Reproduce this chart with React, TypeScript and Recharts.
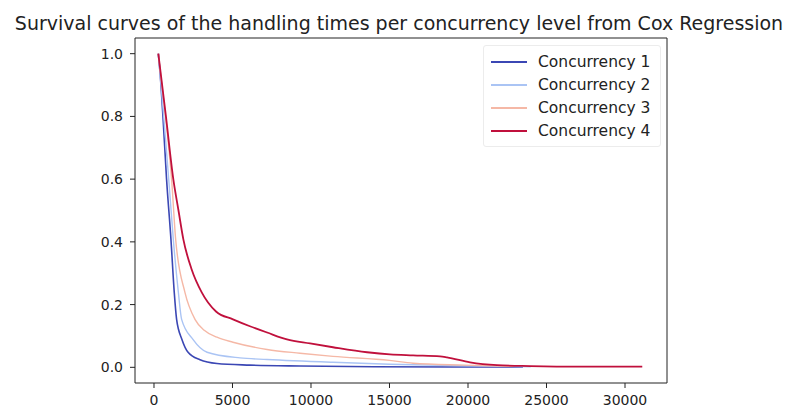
import React from "react";
import { LineChart, Line, XAxis, YAxis, ReferenceArea } from "recharts";

// Handling time (seconds) and survival probability per concurrency level
const times1 = [275, 400, 570, 800, 1080, 1290, 1440, 1780, 2170, 2930, 4010, 6110, 9300, 14000, 19000, 23500];
const surv1 = [1.0, 0.93, 0.8, 0.6, 0.408, 0.239, 0.153, 0.089, 0.048, 0.024, 0.012, 0.007, 0.004, 0.002, 0.001, 0.001];

const times2 = [275, 450, 700, 1000, 1230, 1550, 1760, 2480, 3380, 5480, 7200, 11400, 15000, 20000, 24000];
const surv2 = [1.0, 0.9, 0.75, 0.56, 0.408, 0.24, 0.153, 0.089, 0.048, 0.03, 0.025, 0.016, 0.01, 0.005, 0.002];

const times3 = [275, 500, 800, 1120, 1380, 1970, 2610, 3200, 4010, 5030, 7200, 9300, 11400, 15000, 16500, 19700, 22900];
const surv3 = [1.0, 0.9, 0.77, 0.6, 0.408, 0.239, 0.153, 0.118, 0.096, 0.08, 0.057, 0.045, 0.035, 0.022, 0.013, 0.007, 0.003];

const times4 = [275, 760, 1230, 1560, 1870, 2400, 3040, 3950, 5030, 6110, 7200, 8470, 9940, 11400, 13570, 15030, 16500, 18220, 18660, 20130, 21850, 23950, 27130, 31100];
const surv4 = [1.0, 0.8, 0.6, 0.5, 0.408, 0.312, 0.239, 0.178, 0.153, 0.131, 0.111, 0.089, 0.076, 0.064, 0.048, 0.041, 0.038, 0.035, 0.032, 0.016, 0.007, 0.004, 0.002, 0.002];

const xTicks = [0, 5000, 10000, 15000, 20000, 25000, 30000];
const yTicks = [0, 0.2, 0.4, 0.6, 0.8, 1.0];

const X_DOMAIN: [number, number] = [-1210, 32675];
const Y_DOMAIN: [number, number] = [-0.05, 1.05];

const toPoints = (t: number[], s: number[]) => t.map((time, i) => ({ time, surv: s[i] }));

const series = [
  { name: "Concurrency 1", color: "#3b47b4", width: 1.6, data: toPoints(times1, surv1) },
  { name: "Concurrency 2", color: "#aac4f4", width: 1.4, data: toPoints(times2, surv2) },
  { name: "Concurrency 3", color: "#f5b8a6", width: 1.4, data: toPoints(times3, surv3) },
  { name: "Concurrency 4", color: "#c0103c", width: 1.8, data: toPoints(times4, surv4) },
];

const FONT = "'DejaVu Sans', sans-serif";

// legend sits inside the axes, top-right corner
function LegendBox() {
  return (
    <div
      style={{
        position: "absolute",
        left: 483,
        top: 45,
        border: "1px solid #ececec",
        borderRadius: 3,
        background: "rgba(255,255,255,0.8)",
        padding: "4px 10px 4px 7px",
        fontFamily: FONT,
        fontSize: 15.5,
        color: "#222",
      }}
    >
      {series.map((s) => (
        <div key={s.name} style={{ display: "flex", alignItems: "center", height: 23 }}>
          <span style={{ display: "inline-block", width: 36, height: 0, borderTop: `2px solid ${s.color}`, marginRight: 11 }} />
          <span>{s.name}</span>
        </div>
      ))}
    </div>
  );
}

export default function App() {
  return (
    <div style={{ position: "absolute", left: 0, top: 0, width: 790, height: 412, background: "#fff" }}>
      <div
        style={{
          position: "absolute",
          left: 0,
          width: 798,
          top: 12,
          textAlign: "center",
          fontFamily: FONT,
          fontSize: 19,
          color: "#222",
          whiteSpace: "nowrap",
        }}
      >
        Survival curves of the handling times per concurrency level from Cox Regression
      </div>
      <LineChart width={790} height={412} margin={{ top: 38, right: 123, left: 0, bottom: 0 }}>
        <XAxis
          type="number"
          dataKey="time"
          domain={X_DOMAIN}
          ticks={xTicks}
          allowDataOverflow
          height={29}
          axisLine={false}
          tickLine={{ stroke: "#222" }}
          tickSize={5}
          tickMargin={7}
          tick={{ fill: "#222", fontSize: 14, fontFamily: FONT }}
        />
        <YAxis
          type="number"
          dataKey="surv"
          domain={Y_DOMAIN}
          ticks={yTicks}
          allowDataOverflow
          width={135}
          axisLine={false}
          tickLine={{ stroke: "#222" }}
          tickSize={5}
          tickMargin={7}
          tickFormatter={(v: number) => v.toFixed(1)}
          tick={{ fill: "#222", fontSize: 14, fontFamily: FONT }}
        />
        <ReferenceArea x1={X_DOMAIN[0]} x2={X_DOMAIN[1]} y1={Y_DOMAIN[0]} y2={Y_DOMAIN[1]} fill="none" stroke="#222" strokeWidth={1} />
        {series.map((s) => (
          <Line
            key={s.name}
            data={s.data}
            dataKey="surv"
            name={s.name}
            type="monotone"
            stroke={s.color}
            strokeWidth={s.width}
            dot={false}
            isAnimationActive={false}
          />
        ))}
      </LineChart>
      <LegendBox />
    </div>
  );
}
